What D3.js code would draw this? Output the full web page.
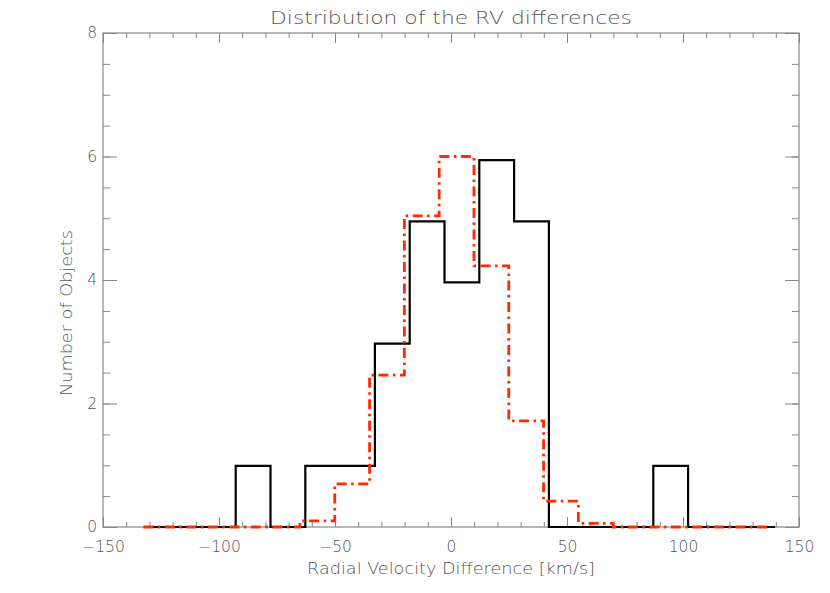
<!DOCTYPE html>
<html>
<head>
<meta charset="utf-8">
<script src="https://cdn.jsdelivr.net/npm/d3@7"></script>
<style>
  html, body { margin: 0; padding: 0; background: #fff; }
  svg text { font-family: "DejaVu Sans", "Liberation Sans", sans-serif; font-weight: 200; fill: #555; }
</style>
</head>
<body>
<svg id="chart" width="830" height="593"></svg>
<script>
// ---- data ----
const title = "Distribution of the RV differences";
const xLabel = "Radial Velocity Difference [km/s]";
const yLabel = "Number of Objects";

// black histogram: bin centres and counts
const blackCenters = [-130.3, -115.3, -100.3, -85.3, -70.3, -55.3, -40.3, -25.3, -10.3, 4.7, 19.7, 34.7, 49.7, 64.7, 79.7, 94.7, 109.7, 124.7, 139.7];
const blackCounts  = [0, 0, 0, 0.99, 0, 0.99, 0.99, 2.97, 4.95, 3.96, 5.94, 4.95, 0, 0, 0, 0.99, 0, 0, 0];

// red dash-dot histogram: bin centres and counts
const redCenters = [-132.6, -117.6, -102.6, -87.6, -72.6, -57.6, -42.6, -27.6, -12.6, 2.4, 17.4, 32.4, 47.4, 62.4, 77.4, 92.4, 107.4, 122.4, 137.4];
const redCounts  = [0, 0, 0, 0, 0, 0.1, 0.7, 2.46, 5.04, 6.0, 4.23, 1.72, 0.42, 0.06, 0, 0, 0, 0, 0];

const xMajorTicks = [-150, -100, -50, 0, 50, 100, 150];
const xMinorTicks = d3.range(-150, 151, 10);
const yMajorTicks = [0, 2, 4, 6, 8];
const yMinorTicks = d3.range(0, 8.01, 0.5);

// ---- layout ----
const W = 830, H = 593;
const m = { left: 103, right: 31, top: 33, bottom: 66 };
const pw = W - m.left - m.right, ph = H - m.top - m.bottom;
const axisColor = "#888";

const svg = d3.select("#chart");
const g = svg.append("g").attr("transform", `translate(${m.left},${m.top})`);

const x = d3.scaleLinear().domain([-150, 150]).range([0, pw]);
const y = d3.scaleLinear().domain([0, 8]).range([ph, 0]);

const fmt = d => (d < 0 ? "\u2212" + Math.abs(d) : String(d));

function styleAxis(sel) {
  sel.select(".domain").remove();
  sel.selectAll("line").attr("stroke", axisColor).attr("stroke-width", 1);
  sel.selectAll("text").attr("fill", "#555").style("font-size", "15.5px");
}

// minor ticks
g.append("g").attr("transform", `translate(0,${ph})`)
  .call(d3.axisBottom(x).tickValues(xMinorTicks).tickSize(-5).tickFormat(""))
  .call(styleAxis);
g.append("g")
  .call(d3.axisTop(x).tickValues(xMinorTicks).tickSize(-5).tickFormat(""))
  .call(styleAxis);
g.append("g")
  .call(d3.axisLeft(y).tickValues(yMinorTicks).tickSize(-7).tickFormat(""))
  .call(styleAxis);
g.append("g").attr("transform", `translate(${pw},0)`)
  .call(d3.axisRight(y).tickValues(yMinorTicks).tickSize(-7).tickFormat(""))
  .call(styleAxis);

// major ticks
g.append("g").attr("transform", `translate(0,${ph})`)
  .call(d3.axisBottom(x).tickValues(xMajorTicks).tickSize(-10).tickPadding(14).tickFormat(fmt))
  .call(styleAxis);
g.append("g")
  .call(d3.axisTop(x).tickValues(xMajorTicks).tickSize(-10).tickFormat(""))
  .call(styleAxis);
g.append("g")
  .call(d3.axisLeft(y).tickValues(yMajorTicks).tickSize(-14).tickPadding(6).tickFormat(fmt))
  .call(styleAxis);
g.append("g").attr("transform", `translate(${pw},0)`)
  .call(d3.axisRight(y).tickValues(yMajorTicks).tickSize(-14).tickFormat(""))
  .call(styleAxis);

// box
g.append("rect").attr("x", 0).attr("y", 0).attr("width", pw).attr("height", ph)
  .attr("fill", "none").attr("stroke", axisColor).attr("stroke-width", 1.2);

// histograms (IDL psym=10 style steps)
const line = d3.line().curve(d3.curveStep).x(d => x(d[0])).y(d => y(d[1]));

g.append("path")
  .datum(d3.zip(blackCenters, blackCounts))
  .attr("d", line)
  .attr("fill", "none").attr("stroke", "#000").attr("stroke-width", 2.2);

g.append("path")
  .datum(d3.zip(redCenters, redCounts))
  .attr("d", line)
  .attr("fill", "none").attr("stroke", "#ff2a00").attr("stroke-width", 2.8)
  .attr("stroke-dasharray", "10,4.5,2.5,4.5");

// texts
svg.append("text").attr("x", m.left + pw / 2).attr("y", 24)
  .attr("text-anchor", "middle").style("font-size", "18px")
  .attr("textLength", 362).attr("lengthAdjust", "spacingAndGlyphs")
  .text(title);

svg.append("text").attr("x", m.left + pw / 2).attr("y", 574)
  .attr("text-anchor", "middle").style("font-size", "16px")
  .attr("textLength", 288).attr("lengthAdjust", "spacingAndGlyphs")
  .text(xLabel);

svg.append("text")
  .attr("transform", `translate(72,${m.top + ph / 2 + 33}) rotate(-90)`)
  .attr("text-anchor", "middle").style("font-size", "16px")
  .attr("textLength", 166).attr("lengthAdjust", "spacingAndGlyphs")
  .text(yLabel);
</script>
</body>
</html>
